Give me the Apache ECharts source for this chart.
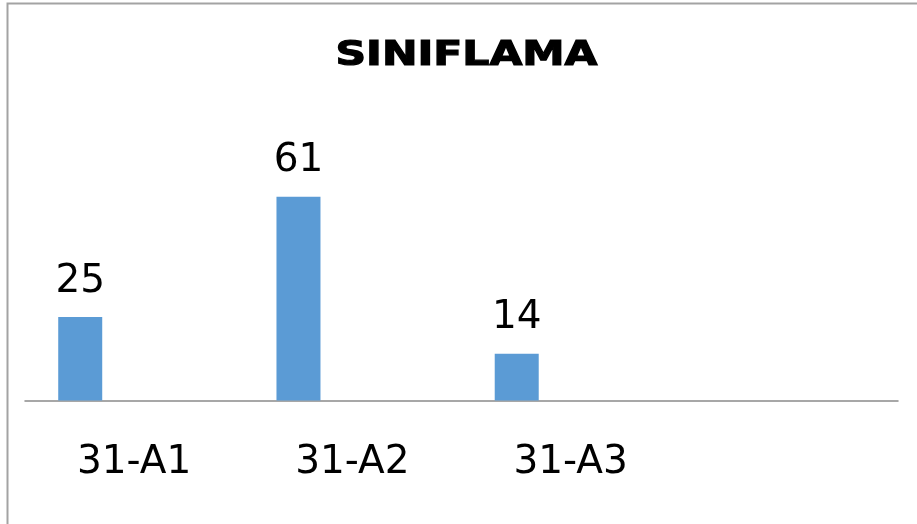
<!DOCTYPE html>
<html>
<head>
<meta charset="utf-8">
<title>SINIFLAMA</title>
<script src="https://cdn.jsdelivr.net/npm/echarts@6/dist/echarts.min.js"></script>
<style>
  html, body { margin: 0; padding: 0; background: #ffffff; }
  #chart { width: 917px; height: 524px; }
</style>
</head>
<body>
<div id="chart"></div>
<script>
// Class groups and the number counted in each
const titleText = 'SINIFLAMA';
const categories = ['31-A1', '31-A2', '31-A3', ''];
const counts = [25, 61, 14, null];
// Second, empty series keeps each bar on the left side of its slot
const spacerValues = [null, null, null, null];

const chart = echarts.init(document.getElementById('chart'), null, { renderer: 'canvas' });

const axisTop = 166.6;
const axisHeight = 233.9;

chart.setOption({
  backgroundColor: '#ffffff',
  animation: false,
  grid: { left: 25, right: 19, top: axisTop, height: axisHeight, containLabel: false },
  xAxis: {
    type: 'category',
    data: categories,
    axisLine: { show: true, lineStyle: { color: '#8a8a8a', width: 1.5 } },
    axisTick: { show: false },
    axisLabel: {
      color: '#000000',
      fontFamily: 'DejaVu Sans',
      fontSize: 39,
      margin: 43
    },
    splitLine: { show: false }
  },
  yAxis: {
    type: 'value',
    min: 0,
    max: 70,
    show: false,
    splitLine: { show: false }
  },
  series: [
    {
      type: 'bar',
      data: counts,
      barWidth: 44,
      barGap: '145%',
      itemStyle: { color: '#5b9bd5' },
      label: {
        show: true,
        position: 'top',
        distance: 16,
        color: '#000000',
        fontFamily: 'DejaVu Sans',
        fontSize: 39
      }
    },
    {
      type: 'bar',
      data: spacerValues,
      barWidth: 44,
      itemStyle: { color: '#5b9bd5' }
    }
  ],
  graphic: [
    {
      type: 'rect',
      shape: { x: 7.5, y: 3.5, width: 1000, height: 600 },
      style: { fill: 'none', stroke: '#a3a3a3', lineWidth: 2 },
      silent: true
    },
    {
      type: 'text',
      x: 466.5,
      y: 56,
      scaleX: 1.25,
      style: {
        text: titleText,
        fontFamily: 'DejaVu Sans',
        fontWeight: 'bold',
        fontSize: 34,
        fill: '#000000',
        stroke: '#000000',
        lineWidth: 1.2,
        textAlign: 'center',
        textVerticalAlign: 'middle'
      }
    }
  ]
});
</script>
</body>
</html>
